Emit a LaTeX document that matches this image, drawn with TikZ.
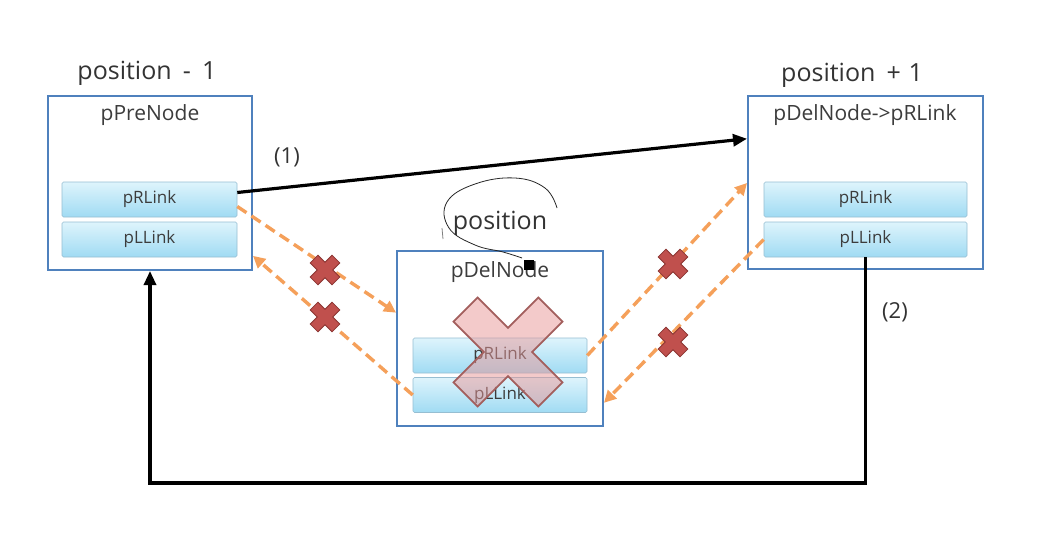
\documentclass[tikz,border=0pt]{standalone}
\usepackage{fontspec}
\setmainfont{Open Sans}
\usetikzlibrary{arrows.meta,calc}
\definecolor{boxblue}{RGB}{79,129,189}
\definecolor{bartop}{RGB}{222,244,252}
\definecolor{barbot}{RGB}{160,219,243}
\definecolor{barline}{RGB}{150,190,210}
\definecolor{orangeln}{RGB}{245,160,90}
\definecolor{xred}{RGB}{192,80,77}
\definecolor{xdark}{RGB}{140,55,52}
\definecolor{bigx}{RGB}{232,150,150}
\definecolor{txt}{RGB}{60,60,60}
\tikzset{
  nodebox/.style={draw=boxblue, line width=2pt, fill=white, inner sep=0pt},
  linkbar/.style={draw=barline, line width=0.6pt, top color=bartop, bottom color=barbot,
    rounded corners=1.5pt, minimum width=#1, minimum height=35pt, inner sep=0pt,
    font=\fontsize{17}{19}\selectfont, text=txt},
  ntitle/.style={font=\fontsize{21}{24}\selectfont, text=txt},
  poslabel/.style={font=\fontsize{25}{29}\selectfont, text=black!80},
  numlabel/.style={font=\fontsize{22}{26}\selectfont, text=black!80},
  blk/.style={line width=3.2pt, draw=black, -{Triangle[length=14pt,width=12pt]}},
  org/.style={line width=3.4pt, draw=orangeln, dash pattern=on 11pt off 6pt,
    -{Triangle[length=12pt,width=12pt]}},
  xmark/.pic={
    \path[rotate=45, #1]
      (5.5,15.5) -- (5.5,5.5) -- (15.5,5.5) -- (15.5,-5.5) -- (5.5,-5.5) -- (5.5,-15.5)
      -- (-5.5,-15.5) -- (-5.5,-5.5) -- (-15.5,-5.5) -- (-15.5,5.5) -- (-5.5,5.5) -- (-5.5,15.5) -- cycle;
  },
}
\begin{document}
\begin{tikzpicture}[x=1pt,y=-1pt]
\useasboundingbox (0,0) rectangle (1053,535);
\fill[white] (0,0) rectangle (1053,535);

% boxes
\node[nodebox, minimum width=204pt, minimum height=174pt] (L) at (150,183) {};
\node[nodebox, minimum width=206pt, minimum height=175pt] (M) at (500,338.5) {};
\node[nodebox, minimum width=235pt, minimum height=173pt] (R) at (865.5,182.5) {};

\node[ntitle] (Lt) at (150,115) {pPreNode};
\node[ntitle] (Mt) at (500,272) {pDelNode};
\node[ntitle] (Rt) at (865,115) {pDelNode->pRLink};

\node[linkbar=175pt] (LR) at (149.5,199.5) {pRLink};
\node[linkbar=175pt] (LL) at (149.5,239.5) {pLLink};
\node[linkbar=174pt] (MR) at (500,355.5) {pRLink};
\node[linkbar=174pt] (ML) at (500,395) {pLLink};
\node[linkbar=203pt] (RR) at (865.5,199.5) {pRLink};
\node[linkbar=203pt] (RL) at (865.5,239.5) {pLLink};

% labels
\node[poslabel] (p1) at (147,73) {position\hspace{0.45em}-\hspace{0.45em}1};
\node[poslabel] (p2) at (852,75) {position\hspace{0.45em}+\hspace{0.3em}1};
\node[poslabel] (p0) at (500,223) {position};
\node[numlabel] (n1) at (287,157) {(1)};
\node[numlabel] (n2) at (895,312) {(2)};

% (1)
\draw[blk] ([yshift=7pt]LR.east) -- ($(R.north west)!0.25!(R.south west)$);
% (2)
\coordinate (bot) at (0,483);
\draw[blk] (RL.south) -- (RL.south |- bot) -- (L.south |- bot) -- (L.south);

% orange dashed links
\draw[org] ([yshift=-7pt]LR.east) -- ($(M.north west)!0.354!(M.south west)$);
\draw[org] (ML.west) -- ($(L.north east)!0.914!(L.south east)$);
\draw[org] (MR.east) -- ($(R.north west)!0.503!(R.south west)$);
\draw[org] (RL.west) -- ($(M.north east)!0.863!(M.south east)$);

% small crosses
\pic at (325,270) {xmark={fill=xred, draw=xdark, line width=0.8pt}};
\pic at (325,317) {xmark={fill=xred, draw=xdark, line width=0.8pt}};
\pic at (673,264) {xmark={fill=xred, draw=xdark, line width=0.8pt}};
\pic at (673,342) {xmark={fill=xred, draw=xdark, line width=0.8pt}};

% big cross over deleted node
\path[rotate around={45:(508,352)}, shift={(508,352)}, fill=bigx, fill opacity=0.5,
  draw=xdark!80, line width=1.8pt]
  (17,60) -- (17,17) -- (60,17) -- (60,-17) -- (17,-17) -- (17,-60)
  -- (-17,-60) -- (-17,-17) -- (-60,-17) -- (-60,17) -- (-17,17) -- (-17,60) -- cycle;

% handwritten loop
\draw[line width=0.8pt, black!85] plot[smooth, tension=0.7] coordinates
  {(557,208) (545,188) (515,178) (475,184) (447,202) (449,228) (475,245) (503,252) (522,258)};
\draw[line width=0.8pt, black!50] (442,228) -- (443,239);
\fill[black] (524,260) rectangle (534,270);
\end{tikzpicture}
\end{document}
